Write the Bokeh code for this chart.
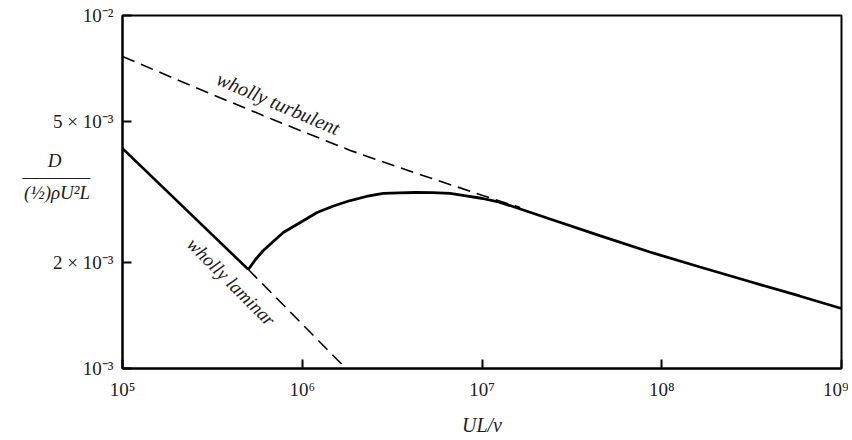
from bokeh.plotting import figure
from bokeh.models import FixedTicker, Label, Range1d
from bokeh.embed import file_html
from bokeh.resources import INLINE

# ---- data ----
# wholly laminar (solid part, then dashed continuation)
lam_solid_re = [1.0e5, 5.0e5]
lam_solid_cd = [4.2e-3, 1.91e-3]
lam_dash_re = [5.0e5, 1.75e6]
lam_dash_cd = [1.91e-3, 1.0e-3]

# wholly turbulent (dashed)
turb_re = [1.0e5, 2.71e5, 7.08e5, 1.85e6, 4.35e6, 1.01e7, 1.63e7]
turb_cd = [7.655e-3, 6.17e-3, 5.04e-3, 4.146e-3, 3.568e-3, 3.091e-3, 2.858e-3]

# transition curve merging into the turbulent curve (solid)
trans_re = [5.01e5, 5.48e5, 6.07e5, 6.90e5, 7.84e5, 9.75e5, 1.21e6, 1.49e6, 1.85e6,
            2.27e6, 2.82e6, 3.46e6, 4.25e6, 5.27e6, 6.64e6, 8.15e6, 1.01e7, 1.21e7,
            1.43e7, 2.39e7, 4.52e7, 8.58e7, 1.63e8, 3.08e8, 5.84e8, 1.0e9]
trans_cd = [1.908e-3, 2.033e-3, 2.159e-3, 2.290e-3, 2.428e-3, 2.593e-3, 2.766e-3, 2.886e-3, 2.991e-3,
            3.071e-3, 3.132e-3, 3.146e-3, 3.152e-3, 3.148e-3, 3.132e-3, 3.084e-3, 3.031e-3, 2.972e-3,
            2.895e-3, 2.651e-3, 2.380e-3, 2.138e-3, 1.939e-3, 1.764e-3, 1.605e-3, 1.479e-3]

x_ticks = [1e5, 1e6, 1e7, 1e8, 1e9]
x_tick_labels = ["10\u2075", "10\u2076", "10\u2077", "10\u2078", "10\u2079"]
y_ticks = [1e-3, 2e-3, 5e-3, 1e-2]
y_tick_labels = ["10\u207b\u00b3", "2 \u00d7 10\u207b\u00b3", "5 \u00d7 10\u207b\u00b3", "10\u207b\u00b2"]

# y title: D over (1/2) rho U^2 L, fraction bar made of em dashes
y_title = "D" + "\u00a0" * 6 + "\n\u2014\u2014\u2014\u2014\n(\u00bd)\u03c1U\u00b2L\n\u00a0\n\u00a0"

SERIF = "Liberation Serif"
INK = "#1c1c1c"

p = figure(width=848, height=440, x_axis_type="log", y_axis_type="log",
           x_range=Range1d(1e5, 1e9), y_range=Range1d(1e-3, 1e-2),
           output_backend="svg", toolbar_location=None,
           min_border_left=122, min_border_right=7, min_border_top=15, min_border_bottom=72)

p.grid.visible = False
p.background_fill_color = "white"
p.border_fill_color = "white"
p.outline_line_color = "black"
p.outline_line_width = 2

p.xaxis.ticker = FixedTicker(ticks=x_ticks, minor_ticks=[])
p.yaxis.ticker = FixedTicker(ticks=y_ticks, minor_ticks=[])
p.xaxis.major_label_overrides = {t: l for t, l in zip(x_ticks, x_tick_labels)}
p.yaxis.major_label_overrides = {t: l for t, l in zip(y_ticks, y_tick_labels)}

for ax in (p.xaxis[0], p.yaxis[0]):
    ax.major_tick_in = 9
    ax.major_tick_out = 0
    ax.minor_tick_line_color = None
    ax.axis_line_width = 2
    ax.axis_line_color = "black"
    ax.major_tick_line_width = 2
    ax.major_tick_line_color = "black"
    ax.major_label_text_font = SERIF
    ax.major_label_text_font_size = "19px"
    ax.major_label_text_color = INK

p.xaxis.major_label_standoff = 10
p.yaxis.major_label_standoff = 9
p.xaxis.axis_label = "UL/\u03bd"
p.xaxis.axis_label_text_font = SERIF
p.xaxis.axis_label_text_font_style = "italic"
p.xaxis.axis_label_text_font_size = "20px"
p.xaxis.axis_label_text_color = INK
p.xaxis.axis_label_standoff = 11

ya = p.yaxis[0]
ya.axis_label = y_title
ya.axis_label_orientation = "horizontal"
ya.axis_label_text_font = SERIF
ya.axis_label_text_font_style = "italic"
ya.axis_label_text_font_size = "19px"
ya.axis_label_text_color = INK
ya.axis_label_text_align = "center"
ya.axis_label_text_line_height = 0.75
ya.axis_label_standoff = -40

# curves
p.line(turb_re, turb_cd, line_color="black", line_width=1.6, line_dash="13 7")
p.line(lam_dash_re, lam_dash_cd, line_color="black", line_width=1.6, line_dash="13 7")
p.line(lam_solid_re, lam_solid_cd, line_color="black", line_width=2.6)
p.line(trans_re, trans_cd, line_color="black", line_width=2.8)

# in-plot annotations
p.add_layout(Label(x=7.36e5, y=5.64e-3, text="wholly turbulent", angle=-23, angle_units="deg",
                   text_align="center", text_baseline="middle", text_font=SERIF,
                   text_font_style="italic", text_font_size="20px", text_color=INK))
p.add_layout(Label(x=4.03e5, y=1.76e-3, text="wholly laminar", angle=-45, angle_units="deg",
                   text_align="center", text_baseline="middle", text_font=SERIF,
                   text_font_style="italic", text_font_size="19px", text_color=INK))

open("out.html", "w").write(file_html(p, INLINE))
